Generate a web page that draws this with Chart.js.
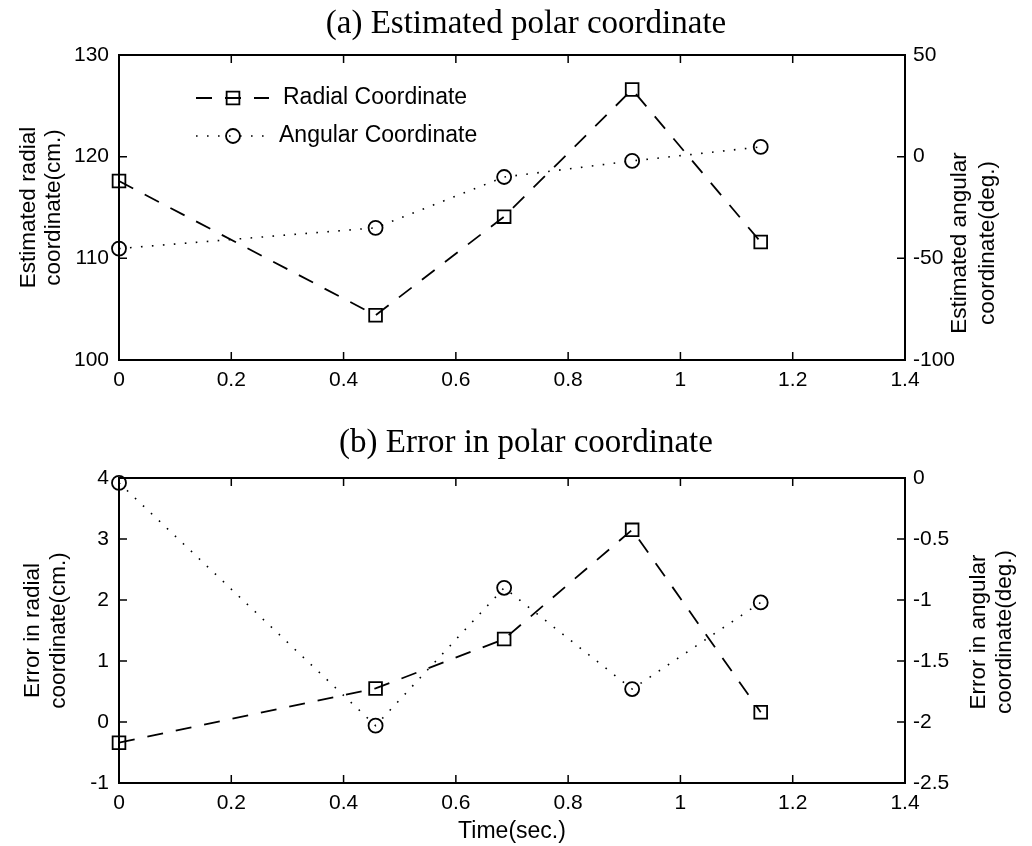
<!DOCTYPE html>
<html><head><meta charset="utf-8">
<script src="https://cdn.jsdelivr.net/npm/chart.js@4.4.1/dist/chart.umd.min.js"></script>
<style>html,body{margin:0;padding:0;background:#fff;}canvas{display:block;}</style>
</head><body>
<canvas id="c1" width="1032" height="423"></canvas>
<canvas id="c2" width="1032" height="423"></canvas>
<script>
// ---- data ----
const timeSec = [0, 0.457, 0.686, 0.914, 1.143];
const radialEstimated = [117.6, 104.4, 114.1, 126.6, 111.6];
const angularEstimated = [-45.2, -35, -10, -2.1, 4.8];
const radialError = [-0.34, 0.55, 1.36, 3.15, 0.16];
const angularError = [-0.04, -2.03, -0.9, -1.73, -1.02];
const xTickValues = [0, 0.2, 0.4, 0.6, 0.8, 1, 1.2, 1.4];
const estRadialTicks = [100, 110, 120, 130];
const estAngularTicks = [-100, -50, 0, 50];
const errRadialTicks = [-1, 0, 1, 2, 3, 4];
const errAngularTicks = [-2.5, -2, -1.5, -1, -0.5, 0];
const seriesNames = ['Radial Coordinate', 'Angular Coordinate'];

const SANS = '"Liberation Sans", Arial, Helvetica, sans-serif';
const SERIF = '"Liberation Serif", "Times New Roman", serif';
Chart.defaults.color = '#000';
Chart.defaults.font.family = SANS;

const fmt = v => String(Math.round(v * 100) / 100);
const pts = (xs, ys) => xs.map((x, i) => ({x, y: ys[i]}));

const framePlugin = {
  id: 'frame',
  afterDraw(chart, args, opts) {
    const {ctx, chartArea: a, scales} = chart;
    ctx.save();
    ctx.strokeStyle = '#000';
    ctx.lineWidth = 1.5;
    const L = 8;
    ctx.beginPath();
    scales.x.ticks.forEach(t => {
      const p = scales.x.getPixelForValue(t.value);
      ctx.moveTo(p, a.bottom); ctx.lineTo(p, a.bottom - L);
      ctx.moveTo(p, a.top); ctx.lineTo(p, a.top + L);
    });
    scales.yL.ticks.forEach(t => {
      const p = scales.yL.getPixelForValue(t.value);
      ctx.moveTo(a.left, p); ctx.lineTo(a.left + L, p);
    });
    scales.yR.ticks.forEach(t => {
      const p = scales.yR.getPixelForValue(t.value);
      ctx.moveTo(a.right, p); ctx.lineTo(a.right - L, p);
    });
    ctx.stroke();
    ctx.lineWidth = 2;
    ctx.strokeRect(a.left, a.top, a.right - a.left, a.bottom - a.top);
    // right axis title (reads bottom to top)
    ctx.fillStyle = '#000';
    ctx.font = '22.5px ' + SANS;
    ctx.textAlign = 'center';
    ctx.textBaseline = 'middle';
    opts.rightTitle.forEach((line, i) => {
      ctx.save();
      ctx.translate(opts.rightX[i], opts.rightY);
      ctx.rotate(-Math.PI / 2);
      ctx.fillText(line, 0, 0);
      ctx.restore();
    });
    ctx.restore();
  }
};

const legendPlugin = {
  id: 'inlegend',
  afterDraw(chart, args, opts) {
    if (!opts.show) return;
    const {ctx, chartArea: a} = chart;
    ctx.save();
    chart.data.datasets.forEach((ds, i) => {
      const y = a.top + opts.rows[i];
      const x0 = a.left + opts.lineStart, x1 = a.left + opts.lineEnd, xm = a.left + opts.marker;
      ctx.strokeStyle = '#000';
      ctx.lineWidth = ds.borderWidth;
      ctx.setLineDash(ds.borderDash);
      ctx.beginPath(); ctx.moveTo(x0, y); ctx.lineTo(x1, y); ctx.stroke();
      ctx.setLineDash([]);
      ctx.lineWidth = ds.pointBorderWidth;
      ctx.beginPath();
      if (ds.pointStyle === 'rect') {
        const s = Math.SQRT1_2 * ds.pointRadius;
        ctx.rect(xm - s, y - s, 2 * s, 2 * s);
      } else {
        ctx.arc(xm, y, ds.pointRadius, 0, Math.PI * 2);
      }
      ctx.stroke();
      ctx.fillStyle = '#000';
      ctx.font = '23px ' + SANS;
      ctx.textAlign = 'left';
      ctx.textBaseline = 'middle';
      ctx.fillText(ds.label, a.left + opts.textX[i], y);
    });
    ctx.restore();
  }
};

function makeChart(id, o) {
  const tickFont = {family: SANS, size: 21};
  const setTicks = vals => (scale => { scale.ticks = vals.map(v => ({value: v})); });
  return new Chart(document.getElementById(id), {
    type: 'line',
    data: {
      datasets: [
        {label: seriesNames[0], data: pts(timeSec, o.radial), yAxisID: 'yL',
         borderColor: '#000', borderWidth: 1.8, borderDash: [16, 13], tension: 0,
         pointStyle: 'rect', pointRadius: 9, pointBorderWidth: 1.8,
         pointBorderColor: '#000', pointBackgroundColor: 'rgba(0,0,0,0)', clip: false},
        {label: seriesNames[1], data: pts(timeSec, o.angular), yAxisID: 'yR',
         borderColor: '#000', borderWidth: 1.6, borderDash: [1.6, 9.4], tension: 0,
         pointStyle: 'circle', pointRadius: 7, pointBorderWidth: 1.8,
         pointBorderColor: '#000', pointBackgroundColor: 'rgba(0,0,0,0)', clip: false}
      ]
    },
    options: {
      responsive: false,
      animation: false,
      events: [],
      layout: {padding: {left: 20, right: 0, top: 0, bottom: 0}},
      plugins: {
        legend: {display: false},
        tooltip: {enabled: false},
        title: {display: true, text: o.title, font: {family: SERIF, size: 33, weight: 'normal', lineHeight: 1.2},
                padding: {top: o.titleTop, bottom: 55 - 39.6 - o.titleTop}, color: '#000'},
        frame: {rightTitle: o.rightTitle, rightX: o.rightX, rightY: o.rightY},
        inlegend: {show: o.legend, rows: [43, 81], lineStart: 77, lineEnd: 150, marker: 114, textX: [164, 160]}
      },
      scales: {
        x: {type: 'linear', min: 0, max: 1.4, position: 'bottom',
            afterBuildTicks: setTicks(xTickValues),
            afterFit: s => { s.height = 63; },
            grid: {display: false, drawTicks: false}, border: {display: false},
            ticks: {font: tickFont, padding: 8, maxRotation: 0, autoSkip: false, callback: fmt},
            title: {display: !!o.xTitle, text: o.xTitle || '', font: {family: SANS, size: 23, lineHeight: 1.13}, padding: {top: 0, bottom: 1}}},
        yL: {type: 'linear', position: 'left', min: o.lMin, max: o.lMax,
             afterBuildTicks: setTicks(o.lTicks),
             afterFit: s => { s.width = 99; },
             grid: {display: false, drawTicks: false}, border: {display: false},
             ticks: {font: tickFont, padding: 10, callback: fmt},
             title: {display: true, text: o.leftTitle, font: {family: SANS, size: 22.5, lineHeight: 1.12}, padding: {top: o.leftPad, bottom: 0}}},
        yR: {type: 'linear', position: 'right', min: o.rMin, max: o.rMax,
             afterBuildTicks: setTicks(o.rTicks),
             afterFit: s => { s.width = 127; },
             grid: {display: false, drawTicks: false}, border: {display: false},
             ticks: {font: tickFont, padding: 8, callback: fmt}}
      }
    },
    plugins: [framePlugin, legendPlugin]
  });
}

makeChart('c1', {
  title: '(a) Estimated polar coordinate', titleTop: 5,
  radial: radialEstimated, angular: angularEstimated,
  lMin: 100, lMax: 130, lTicks: estRadialTicks,
  rMin: -100, rMax: 50, rTicks: estAngularTicks,
  leftTitle: ['Estimated radial', 'coordinate(cm.)'], leftPad: -4,
  rightTitle: ['Estimated angular', 'coordinate(deg.)'], rightX: [960, 988], rightY: 243,
  legend: true, xTitle: null
});
makeChart('c2', {
  title: '(b) Error in polar coordinate', titleTop: 1,
  radial: radialError, angular: angularError,
  lMin: -1, lMax: 4, lTicks: errRadialTicks,
  rMin: -2.5, rMax: 0, rTicks: errAngularTicks,
  leftTitle: ['Error in radial', 'coordinate(cm.)'], leftPad: 0.5,
  rightTitle: ['Error in angular', 'coordinate(deg.)'], rightX: [979, 1005], rightY: 209,
  legend: false, xTitle: 'Time(sec.)'
});
</script>
</body></html>
